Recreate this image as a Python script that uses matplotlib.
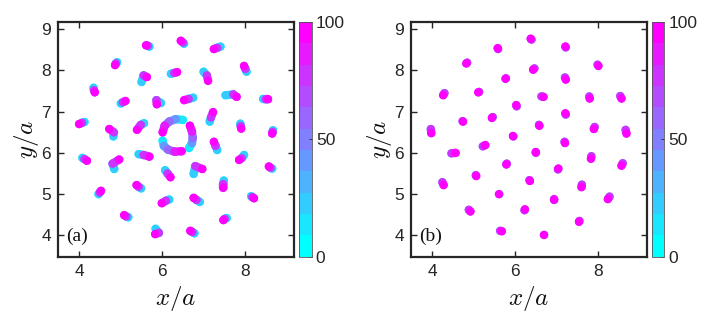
import matplotlib
matplotlib.use('Agg')
import matplotlib.pyplot as plt
import numpy as np
from matplotlib.colors import Normalize
from matplotlib.cm import ScalarMappable
from matplotlib.collections import LineCollection

plt.rcParams['font.family'] = ['Liberation Sans', 'DejaVu Sans']
plt.rcParams['mathtext.fontset'] = 'cm'

# ---------------- data ----------------
# Panel (a): particle trajectories, positions at t = 0, 50, 100
times_a = [0, 50, 100]
a_x_t0 = [5.69, 6.53, 7.41, 4.91, 8.04, 5.50, 6.21, 7.00, 4.34, 5.00, 5.97, 6.75, 7.53, 8.44, 7.15, 4.12, 4.82, 5.56, 7.89,
          8.68, 4.07, 4.84, 5.43, 7.33, 7.98, 8.66, 6.07, 6.76, 5.49, 7.49, 4.46, 6.17, 6.91, 8.15, 5.18, 7.56, 5.84, 6.78]
a_y_t0 = [8.58, 8.65, 8.58, 8.20, 7.97, 7.72, 7.92, 7.97, 7.58, 7.20, 7.21, 7.34, 7.40, 7.31, 6.76, 6.75, 6.40, 6.72, 6.71,
          6.55, 5.88, 5.61, 5.97, 6.07, 5.95, 5.62, 5.58, 5.49, 5.14, 5.33, 5.00, 4.87, 4.81, 4.95, 4.44, 4.42, 4.16, 4.05]
a_x_t50 = [5.65, 6.50, 7.33, 4.88, 8.01, 5.55, 6.29, 7.08, 4.35, 5.05, 5.86, 6.64, 7.72, 8.50, 7.18, 4.06, 4.83, 5.48, 7.90,
           8.67, 4.12, 4.80, 5.55, 7.29, 7.92, 8.62, 6.13, 6.80, 5.43, 7.48, 4.49, 6.09, 6.83, 8.18, 5.13, 7.51, 5.92, 6.73]
a_y_t50 = [8.60, 8.68, 8.55, 8.17, 8.04, 7.88, 7.94, 7.88, 7.52, 7.23, 7.28, 7.31, 7.42, 7.30, 6.86, 6.73, 6.50, 6.68, 6.65,
           6.51, 5.85, 5.74, 5.95, 6.17, 5.87, 5.64, 5.50, 5.68, 5.18, 5.24, 5.04, 4.84, 4.86, 4.93, 4.46, 4.40, 4.06, 4.08]
a_x_t100 = [5.61, 6.45, 7.25, 4.86, 7.98, 5.63, 6.36, 7.11, 4.37, 5.11, 5.87, 6.53, 7.80, 8.56, 7.23, 3.99, 4.72, 5.39, 7.91,
            8.66, 4.18, 4.96, 5.69, 7.25, 7.86, 8.58, 6.20, 6.97, 5.38, 7.48, 4.52, 5.99, 6.76, 8.22, 5.08, 7.48, 5.83, 6.68]
a_y_t100 = [8.61, 8.72, 8.52, 8.13, 8.11, 7.84, 7.96, 7.75, 7.47, 7.26, 7.18, 7.28, 7.36, 7.30, 6.99, 6.70, 6.58, 6.56, 6.59,
            6.47, 5.81, 5.84, 5.91, 6.27, 5.83, 5.67, 5.41, 5.61, 5.22, 5.16, 5.08, 4.78, 4.91, 4.90, 4.49, 4.37, 4.03, 4.11]

# Panel (a): the three particles circulating in the centre ring, at t = 0, 25, 50, 75, 100
times_ring = [0, 25, 50, 75, 100]
ring_A_x = [6.50, 6.33, 6.17, 6.06, 6.01]
ring_A_y = [6.80, 6.82, 6.76, 6.66, 6.50]
ring_B_x = [6.01, 6.04, 6.14, 6.30, 6.47]
ring_B_y = [6.30, 6.17, 6.08, 6.03, 6.04]
ring_C_x = [6.65, 6.72, 6.74, 6.72, 6.67]
ring_C_y = [6.12, 6.24, 6.36, 6.52, 6.66]

# Panel (b): particle positions at t = 50 (purple end) and t = 100 (magenta end)
times_b = [50, 100]
b_x_t50 = [6.40, 5.59, 7.23, 4.84, 8.00, 6.47, 5.78, 7.21, 4.29, 5.13, 6.64, 7.80, 8.55, 6.04, 7.23, 5.46, 4.73, 6.58, 3.96,
           7.93, 8.68, 5.96, 7.20, 5.22, 4.46, 6.50, 7.85, 8.61, 5.80, 7.04, 5.05, 6.35, 4.24, 7.62, 5.62, 8.29, 6.95, 4.88,
           6.23, 7.56, 5.64, 6.71]
b_y_t50 = [8.75, 8.52, 8.56, 8.19, 8.14, 8.05, 7.81, 7.83, 7.45, 7.48, 7.37, 7.37, 7.38, 7.13, 6.93, 6.87, 6.77, 6.68, 6.58,
           6.63, 6.56, 6.40, 6.27, 6.16, 5.99, 6.01, 5.92, 5.75, 5.74, 5.60, 5.46, 5.34, 5.29, 5.23, 5.00, 4.94, 4.86, 4.62,
           4.61, 4.35, 4.11, 4.01]
b_x_t100 = [6.38, 5.58, 7.22, 4.82, 8.02, 6.44, 5.77, 7.23, 4.26, 5.11, 6.69, 7.81, 8.58, 6.03, 7.22, 5.44, 4.74, 6.59, 3.97,
            7.91, 8.70, 5.95, 7.21, 5.28, 4.56, 6.50, 7.84, 8.58, 5.79, 7.05, 5.06, 6.36, 4.27, 7.61, 5.61, 8.25, 6.95, 4.92,
            6.24, 7.55, 5.68, 6.70]
b_y_t100 = [8.77, 8.54, 8.58, 8.17, 8.11, 8.02, 7.80, 7.78, 7.40, 7.47, 7.36, 7.32, 7.32, 7.16, 6.96, 6.85, 6.76, 6.66, 6.48,
            6.58, 6.47, 6.41, 6.24, 6.19, 6.00, 6.02, 5.86, 5.69, 5.72, 5.62, 5.44, 5.32, 5.22, 5.17, 5.00, 4.88, 4.87, 4.58,
            4.63, 4.33, 4.10, 4.01]

xticks = [4, 6, 8]
yticks = [4, 5, 6, 7, 8, 9]
cbar_ticks = [0, 50, 100]
panel_labels = ['(a)', '(b)']

# ---------------- styling ----------------
cmap = plt.get_cmap('cool', 11)
norm = Normalize(0, 100)
frame_col = '#262626'
msize = 36
lw = np.sqrt(msize)


def draw_tracks(ax, xs_by_t, ys_by_t, ts, z0):
    """Draw trajectories: dots at the sampled times, joined by thick
    segments coloured by the time between the samples (later on top)."""
    xs_by_t = [np.asarray(v, float) for v in xs_by_t]
    ys_by_t = [np.asarray(v, float) for v in ys_by_t]
    z = z0
    for k, t in enumerate(ts):
        if k > 0:
            segs = np.stack([np.column_stack([xs_by_t[k - 1], ys_by_t[k - 1]]),
                             np.column_stack([xs_by_t[k], ys_by_t[k]])], axis=1)
            tm = 0.5 * (ts[k - 1] + t)
            lc = LineCollection(segs, colors=[cmap(norm(tm))], linewidths=lw,
                                capstyle='round', zorder=z)
            ax.add_collection(lc)
            z += 1
        ax.scatter(xs_by_t[k], ys_by_t[k], c=[t] * len(xs_by_t[k]), cmap=cmap, norm=norm,
                   s=msize, edgecolors='none', zorder=z)
        z += 1
    return z


fig = plt.figure(figsize=(7.09, 3.21), dpi=100)
axa = fig.add_axes([0.0818, 0.2, 0.333, 0.732])
caxa = fig.add_axes([0.4217, 0.2, 0.0179, 0.732])
axb = fig.add_axes([0.5797, 0.2, 0.3324, 0.732])
caxb = fig.add_axes([0.919, 0.2, 0.0178, 0.732])

# panel (a)
draw_tracks(axa, [a_x_t0, a_x_t50, a_x_t100], [a_y_t0, a_y_t50, a_y_t100], times_a, 2)
ring_x_by_t = [[ring_A_x[k], ring_B_x[k], ring_C_x[k]] for k in range(len(times_ring))]
ring_y_by_t = [[ring_A_y[k], ring_B_y[k], ring_C_y[k]] for k in range(len(times_ring))]
draw_tracks(axa, ring_x_by_t, ring_y_by_t, times_ring, 2)

# panel (b)
draw_tracks(axb, [b_x_t50, b_x_t100], [b_y_t50, b_y_t100], times_b, 2)

for ax, cax, lab in zip([axa, axb], [caxa, caxb], panel_labels):
    ax.set_xlim(3.48, 9.19)
    ax.set_ylim(3.48, 9.18)
    ax.set_xticks(xticks)
    ax.set_yticks(yticks)
    ax.tick_params(direction='in', length=4, width=1.0, top=True, right=True,
                   labelsize=12.5, colors=frame_col, pad=5)
    for sp in ax.spines.values():
        sp.set_linewidth(1.6)
        sp.set_color(frame_col)
        sp.set_zorder(20)
    ax.set_xlabel(r'$x/a$', fontsize=18, labelpad=4, color='#111111')
    ax.set_ylabel(r'$y/a$', fontsize=18, labelpad=0, color='#111111')
    ax.text(0.035, 0.085, lab, transform=ax.transAxes, fontsize=14,
            family='Liberation Serif', va='center', ha='left', color='#111111', zorder=30)

    cb = fig.colorbar(ScalarMappable(norm=norm, cmap=cmap), cax=cax, ticks=cbar_ticks)
    cb.outline.set_linewidth(0.6)
    cb.outline.set_edgecolor('#555555')
    cax.tick_params(direction='in', length=2, width=0.6, labelsize=12.5,
                    colors=frame_col, pad=3)

fig.savefig('out.png', dpi=100)
